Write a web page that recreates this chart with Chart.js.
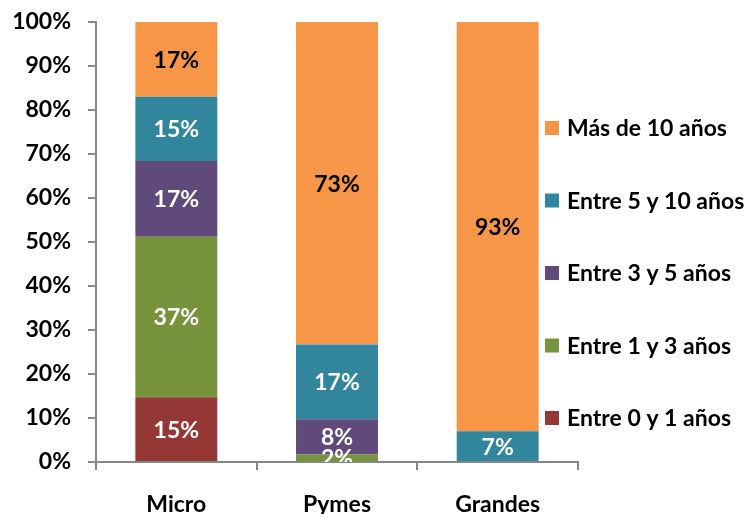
<!DOCTYPE html>
<html>
<head>
<meta charset="utf-8">
<script src="https://cdn.jsdelivr.net/npm/chart.js@4"></script>
<style>
  html, body { margin: 0; padding: 0; background: #fff; }
  #wrap { width: 754px; height: 514px; }
</style>
</head>
<body>
<div id="wrap"><canvas id="chart" width="754" height="514"></canvas></div>
<script>
// datos
const categorias = ['Micro', 'Pymes', 'Grandes'];
const series = ['Entre 0 y 1 años', 'Entre 1 y 3 años', 'Entre 3 y 5 años', 'Entre 5 y 10 años', 'Más de 10 años'];
const entre0y1 = [14.7, 0, 0];
const entre1y3 = [36.5, 1.7, 0];
const entre3y5 = [17.2, 8.0, 0];
const entre5y10 = [14.6, 17.0, 7.0];
const masDe10 = [17.0, 73.3, 93.0];
const colores = ['#953735', '#77933C', '#604A7B', '#31859C', '#F79646'];
const coloresTexto = ['#fff', '#fff', '#fff', '#fff', '#000'];

const valores = [entre0y1, entre1y3, entre3y5, entre5y10, masDe10];
const FUENTE = 'Lato, "Open Sans", sans-serif';
const TAM = 23;

// etiquetas dentro de las barras
const etiquetas = {
    id: 'etiquetas',
    afterDatasetsDraw(chart) {
        const ctx = chart.ctx;
        const area = chart.chartArea;
        ctx.save();
        ctx.beginPath();
        ctx.rect(area.left, area.top, area.right - area.left, area.bottom - area.top);
        ctx.clip();
        ctx.font = 'bold ' + TAM + 'px ' + FUENTE;
        ctx.textAlign = 'center';
        ctx.textBaseline = 'middle';
        chart.data.datasets.forEach((ds, i) => {
            const meta = chart.getDatasetMeta(i);
            meta.data.forEach((bar, j) => {
                const v = ds.data[j];
                if (!v) return;
                ctx.fillStyle = coloresTexto[i];
                ctx.fillText(Math.round(v) + '%', bar.x, (bar.y + bar.base) / 2 + 1);
            });
        });
        ctx.restore();
    }
};

// leyenda a la derecha, orden inverso
const leyenda = {
    id: 'leyenda',
    afterDraw(chart) {
        const ctx = chart.ctx;
        ctx.save();
        ctx.font = 'bold ' + TAM + 'px ' + FUENTE;
        ctx.textBaseline = 'middle';
        ctx.textAlign = 'left';
        const y0 = 128, paso = 72.5;
        for (let k = 0; k < series.length; k++) {
            const i = series.length - 1 - k;
            const y = y0 + k * paso;
            ctx.fillStyle = colores[i];
            ctx.fillRect(545, y - 7, 14, 14);
            ctx.fillStyle = '#000';
            ctx.fillText(series[i], 567, y + 1);
        }
        ctx.restore();
    }
};

new Chart(document.getElementById('chart').getContext('2d'), {
    type: 'bar',
    data: {
        labels: categorias,
        datasets: series.map((s, i) => ({
            label: s,
            data: valores[i],
            backgroundColor: colores[i],
            borderWidth: 0,
            categoryPercentage: 1,
            barPercentage: 0.51,
        })),
    },
    options: {
        responsive: false,
        animation: false,
        layout: { padding: { top: 22, right: 176, left: 0, bottom: 0 } },
        plugins: {
            legend: { display: false },
            tooltip: { enabled: false },
        },
        scales: {
            x: {
                stacked: true,
                grid: { display: true, offset: true, drawOnChartArea: false, color: '#868686', lineWidth: 2, tickLength: 8 },
                border: { color: '#868686', width: 2 },
                ticks: { color: '#000', font: { family: FUENTE, size: TAM, weight: 'bold' }, padding: 21 },
                afterFit(scale) { scale.height = 52; },
            },
            y: {
                stacked: true,
                min: 0,
                max: 100,
                grid: { display: true, drawOnChartArea: false, color: '#868686', lineWidth: 2, tickLength: 8 },
                border: { color: '#868686', width: 2 },
                ticks: {
                    stepSize: 10,
                    color: '#000',
                    padding: 17,
                    font: { family: FUENTE, size: TAM, weight: 'bold' },
                    callback: v => v + '%',
                },
                afterFit(scale) {
                    scale.width = 96;
                    scale.paddingTop = 0;
                    scale.paddingBottom = 0;
                },
            },
        },
    },
    plugins: [etiquetas, leyenda],
});
</script>
</body>
</html>
